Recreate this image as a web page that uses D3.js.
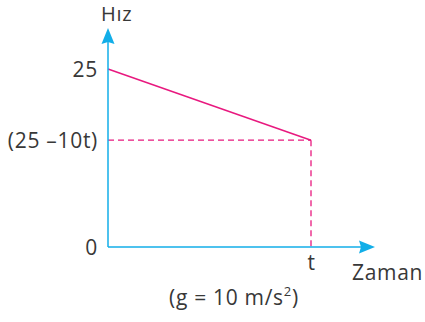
<!DOCTYPE html>
<html>
<head>
<meta charset="utf-8">
<script src="https://cdn.jsdelivr.net/npm/d3@7"></script>
<style>
  body { margin: 0; background: #fff; }
  text { font-family: "Open Sans", sans-serif; fill: #383838; letter-spacing: 0.7px; }
</style>
</head>
<body>
<div id="chart"></div>
<script>
// Data
const timeValues = [0, 1];          // 0 and t
const speedValues = [25, 15];       // 25 and 25 - 10t (g = 10, t = 1)
const yTickValues = [0, 15, 25];
const yTickLabels = ["0", "(25 \u201310t)", "25"];
const xTickValues = [1];
const xTickLabels = ["t"];

const width = 425, height = 322;
const blue = "#12aee8", pink = "#e8197f";

const svg = d3.select("#chart")
    .append("svg")
    .attr("width", width)
    .attr("height", height);

// Scales
const x = d3.scaleLinear().domain([0, 1]).range([108, 311]);
const y = d3.scaleLinear().domain([0, 25]).range([247, 69]);

// Y tick labels
const yAxis = d3.axisLeft(y)
    .tickValues(yTickValues)
    .tickSize(0)
    .tickPadding(10)
    .tickFormat((d, i) => yTickLabels[i]);

svg.append("g")
    .attr("transform", "translate(" + x(0) + ",0)")
    .call(yAxis)
    .call(g => g.select(".domain").remove())
    .selectAll("text")
    .style("font-family", "'Open Sans', sans-serif")
    .style("font-size", "21px")
    .attr("fill", "#383838")
    .attr("dy", "0.36em");

// X tick label
const xAxis = d3.axisBottom(x)
    .tickValues(xTickValues)
    .tickSize(0)
    .tickPadding(8)
    .tickFormat((d, i) => xTickLabels[i]);

svg.append("g")
    .attr("transform", "translate(0," + y(0) + ")")
    .call(xAxis)
    .call(g => g.select(".domain").remove())
    .selectAll("text")
    .style("font-family", "'Open Sans', sans-serif")
    .style("font-size", "21px")
    .attr("fill", "#383838");

// Dashed guides
svg.append("line")
    .attr("x1", x(0)).attr("y1", y(speedValues[1]))
    .attr("x2", x(timeValues[1])).attr("y2", y(speedValues[1]))
    .attr("stroke", pink).attr("stroke-width", 1.3)
    .attr("stroke-dasharray", "6,4");

svg.append("line")
    .attr("x1", x(timeValues[1])).attr("y1", y(speedValues[1]))
    .attr("x2", x(timeValues[1])).attr("y2", y(0))
    .attr("stroke", pink).attr("stroke-width", 1.3)
    .attr("stroke-dasharray", "6,4");

// Speed line
const line = d3.line()
    .x((d, i) => x(timeValues[i]))
    .y(d => y(d));

svg.append("path")
    .datum(speedValues)
    .attr("d", line)
    .attr("fill", "none")
    .attr("stroke", pink)
    .attr("stroke-width", 1.5);

// Axes with arrows
svg.append("line")
    .attr("x1", x(0)).attr("y1", y(0))
    .attr("x2", x(0)).attr("y2", 40)
    .attr("stroke", blue).attr("stroke-width", 1.5);

svg.append("line")
    .attr("x1", x(0)).attr("y1", y(0))
    .attr("x2", 363).attr("y2", y(0))
    .attr("stroke", blue).attr("stroke-width", 1.5);

svg.append("path")
    .attr("d", "M" + x(0) + ",28 L" + (x(0) + 6.5) + ",44 L" + x(0) + ",42 L" + (x(0) - 6.5) + ",44 Z")
    .attr("fill", blue);

svg.append("path")
    .attr("d", "M375," + y(0) + " L359," + (y(0) - 6.5) + " L361," + y(0) + " L359," + (y(0) + 6.5) + " Z")
    .attr("fill", blue);

// Axis titles
svg.append("text")
    .attr("x", 101).attr("y", 21)
    .style("font-size", "20px")
    .text("H\u0131z");

svg.append("text")
    .attr("x", 352).attr("y", 280)
    .style("font-size", "21px")
    .text("Zaman");

const note = svg.append("text")
    .attr("x", 169).attr("y", 305)
    .style("font-size", "21px");
note.append("tspan").text("(g = 10 m/s");
note.append("tspan").attr("dy", -9).style("font-size", "13px").text("2");
note.append("tspan").attr("dy", 9).text(")");
</script>
</body>
</html>
